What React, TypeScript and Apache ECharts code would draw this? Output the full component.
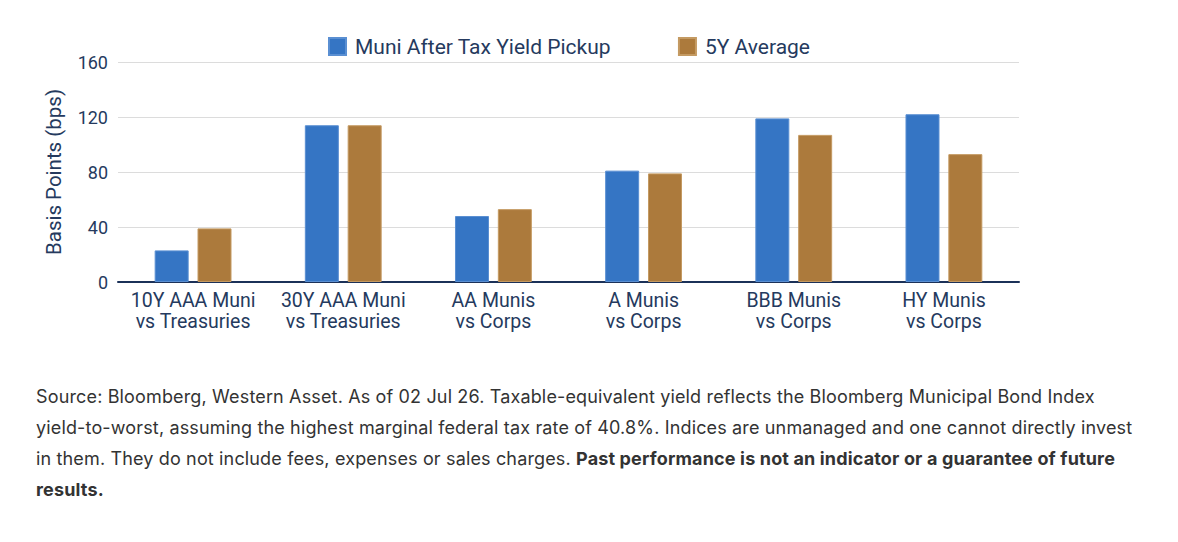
import React, { useEffect, useRef } from "react";
import * as echarts from "echarts";

const categories = [
  "10Y AAA Muni\nvs Treasuries",
  "30Y AAA Muni\nvs Treasuries",
  "AA Munis\nvs Corps",
  "A Munis\nvs Corps",
  "BBB Munis\nvs Corps",
  "HY Munis\nvs Corps",
];
const afterTaxPickup = [23, 114, 48, 81, 119, 122];
const fiveYearAverage = [39, 114, 53, 79, 107, 93];
const seriesNames = ["Muni After Tax Yield Pickup", "5Y Average"];

// Footnote, one entry per printed line: [regular text, bold text]
const footnoteLines: [string, string][] = [
  ["Source: Bloomberg, Western Asset. As of 02 Jul 26. Taxable-equivalent yield reflects the Bloomberg Municipal Bond Index", ""],
  ["yield-to-worst, assuming the highest marginal federal tax rate of 40.8%. Indices are unmanaged and one cannot directly invest", ""],
  ["in them. They do not include fees, expenses or sales charges. ", "Past performance is not an indicator or a guarantee of future"],
  ["", "results."],
];

const NAVY = "#253a5e";
const FONT = "Roboto, 'Noto Sans', sans-serif";

export default function App() {
  const ref = useRef<HTMLDivElement>(null);

  useEffect(() => {
    document.body.style.margin = "0";
    const chart = echarts.init(ref.current!, null, { renderer: "svg" });
    chart.setOption({
      animation: false,
      textStyle: { fontFamily: FONT, color: NAVY },
      legend: {
        left: 323,
        top: 31,
        itemWidth: 17,
        itemHeight: 17,
        itemGap: 67,
        icon: "rect",
        textStyle: { fontSize: 21, color: NAVY, fontFamily: FONT, padding: [0, 0, 0, 4] },
        data: seriesNames,
      },
      grid: { left: 118, right: 159, top: 62, height: 220 },
      xAxis: {
        type: "category",
        data: categories,
        axisLine: { lineStyle: { color: "#1b3158", width: 2 } },
        axisTick: { show: false },
        axisLabel: {
          color: NAVY,
          fontSize: 19.5,
          lineHeight: 21,
          margin: 8,
          fontFamily: FONT,
          interval: 0,
        },
      },
      yAxis: {
        type: "value",
        min: 0,
        max: 160,
        interval: 40,
        name: "Basis Points (bps)",
        nameLocation: "middle",
        nameGap: 54,
        nameTextStyle: { fontSize: 20.5, color: NAVY, fontFamily: FONT },
        axisLabel: { color: NAVY, fontSize: 18, margin: 10, fontFamily: FONT },
        splitLine: { lineStyle: { color: "#dcdcdc", width: 1 } },
        axisLine: { show: false },
        axisTick: { show: false },
      },
      series: [
        {
          name: seriesNames[0],
          type: "bar",
          data: afterTaxPickup,
          barWidth: 34,
          barGap: "26%",
          itemStyle: { color: "#3575c4", borderColor: "#5a8fd2", borderWidth: 1 },
        },
        {
          name: seriesNames[1],
          type: "bar",
          data: fiveYearAverage,
          barWidth: 34,
          itemStyle: { color: "#ac7a3c", borderColor: "#c49a62", borderWidth: 1 },
        },
      ],
    });
    return () => chart.dispose();
  }, []);

  return (
    <div style={{ position: "relative", width: 1178, height: 542, background: "#fff" }}>
      <div ref={ref} style={{ position: "absolute", left: 0, top: 0, width: 1178, height: 360 }} />
      <div
        style={{
          position: "absolute",
          left: 36,
          top: 381,
          fontFamily: "Inter, 'Noto Sans', sans-serif",
          fontSize: 18,
          letterSpacing: "0.15px",
          lineHeight: "31px",
          color: "#333333",
          whiteSpace: "pre",
        }}
      >
        {footnoteLines.map(([regular, bold], i) => (
          <div key={i} style={{ height: 31 }}>
            {regular && <span>{regular}</span>}
            {bold && <b style={{ fontWeight: 700 }}>{bold}</b>}
          </div>
        ))}
      </div>
    </div>
  );
}
